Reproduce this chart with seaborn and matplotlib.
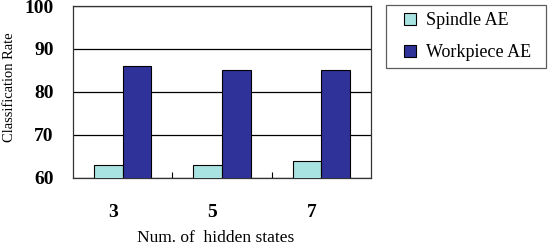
import pandas as pd
import seaborn as sns
import matplotlib.pyplot as plt
from matplotlib.lines import Line2D
import matplotlib.transforms as mtransforms

# values
states = ['3', '5', '7']
spindle = [63, 63, 64]
workpiece = [86, 85, 85]
series = ['Spindle AE', 'Workpiece AE']
colors = ['#a9e3e1', '#2f3299']

df = pd.DataFrame({
    'states': states * 2,
    'rate': spindle + workpiece,
    'sensor': [series[0]] * 3 + [series[1]] * 3,
})

plt.rcParams['font.family'] = ['Liberation Serif', 'DejaVu Serif']

fig = plt.figure(figsize=(5.5, 2.47), dpi=100)
ax = fig.add_axes([0.1327, 0.2794, 0.5418, 0.6963])

sns.barplot(data=df, x='states', y='rate', hue='sensor', palette=colors,
            saturation=1, edgecolor='black', linewidth=0.8, width=0.58,
            ax=ax, legend=False, zorder=3)

ax.set_ylim(60, 100)
ax.set_xlim(-0.5, 2.5)
ax.set_yticks([60, 70, 80, 90, 100])
ax.yaxis.grid(True, color='black', linewidth=0.9, zorder=0)
ax.set_axisbelow(True)
for s in ax.spines.values():
    s.set_linewidth(0.9)
    s.set_color('#333333')

ax.tick_params(axis='y', length=0, pad=14, labelsize=14)
ax.tick_params(axis='x', length=0, pad=19, labelsize=14)
for lab in ax.get_yticklabels() + ax.get_xticklabels():
    lab.set_fontweight('bold')
shift = mtransforms.ScaledTranslation(-10 / 100, 0, fig.dpi_scale_trans)
for lab in ax.get_xticklabels():
    lab.set_transform(lab.get_transform() + shift)

# small separator ticks between the groups
ax.set_xticks([0.5, 1.5], minor=True)
ax.tick_params(axis='x', which='minor', direction='in', length=4, width=0.8)

ax.set_ylabel('Classification Rate', fontsize=10.5)
ax.yaxis.set_label_coords(-0.19, 0.53)
ax.set_xlabel('Num. of  hidden states', fontsize=12.5)
ax.xaxis.set_label_coords(0.477, -0.30)

handles = [Line2D([], [], marker='s', linestyle='none', markersize=8.5,
                  markerfacecolor=c, markeredgecolor='black',
                  markeredgewidth=0.8, label=l)
           for c, l in zip(colors, series)]
leg = fig.legend(handles=handles, loc='upper left',
                 bbox_to_anchor=(0.702, 0.725, 0.291, 0.255), mode='expand',
                 fontsize=13, frameon=True, fancybox=False,
                 edgecolor='#333333', handlelength=1.8, handletextpad=0.0,
                 labelspacing=0.83, borderpad=0.4, borderaxespad=0)
leg.get_frame().set_linewidth(0.9)

fig.savefig('out.png', dpi=100)
